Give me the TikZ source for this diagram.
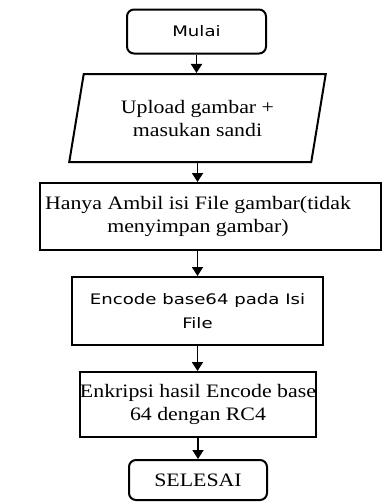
\documentclass[tikz,border=0pt]{standalone}
\usepackage{fontspec}
\setmainfont{Liberation Serif}[FakeStretch=1.15]
\newfontfamily\boxsans{DejaVu Sans}[FakeStretch=1.25]
\usepackage{tikz}
\usetikzlibrary{
  shapes.geometric, arrows.meta, positioning
}
\tikzstyle{startstop} = [rectangle, rounded corners=7pt, draw, line width=2pt, inner sep=0pt]
\tikzstyle{io} = [trapezium, trapezium left angle=75, trapezium right angle=105, trapezium stretches=true, draw, line width=2pt, inner sep=0pt, align=center]
\tikzstyle{process} = [rectangle, draw, line width=2pt, inner sep=0pt, align=center]
\tikzstyle{serif} = [font=\fontsize{19}{23}\selectfont]
\tikzstyle{sans} = [font=\boxsans\fontsize{14.5}{24}\selectfont]
\tikzstyle{arrow} = [-{Triangle[length=9pt, width=11pt]}, line width=1.8pt]

\begin{document}
\begin{tikzpicture}[x=1pt, y=-1pt]
  \useasboundingbox (0,0) rectangle (382,504);

  \node[startstop, sans, minimum width=139pt, minimum height=44pt] (mulai) at (196.5,31.5) {Mulai};
  \node[io, serif, minimum width=257pt, minimum height=88pt] (upload) at (197.5,118) {Upload gambar +\\masukan sandi};
  \node[process, minimum width=341pt, minimum height=67pt] (hanya) at (210.5,216.5) {};
  \node[serif, align=center, inner sep=0pt] (hanyatxt) at (198,216.5) {Hanya Ambil isi File gambar(tidak\\menyimpan gambar)};
  \node[process, sans, minimum width=251pt, minimum height=68pt] (encode) at (197.5,311) {Encode base64 pada Isi\\File};
  \node[process, serif, minimum width=236pt, minimum height=65pt] (enkripsi) at (198,404.5) {Enkripsi hasil Encode base\\64 dengan RC4};
  \node[startstop, serif, minimum width=138pt, minimum height=40pt] (selesai) at (198,480) {SELESAI};

  \draw[arrow] (mulai.south) -- (mulai.south |- upload.north);
  \draw[arrow] (upload.south) -- (upload.south |- hanya.north);
  \draw[arrow] (hanya.south -| encode.north) -- (encode.north);
  \draw[arrow] (encode.south) -- (encode.south |- enkripsi.north);
  \draw[arrow] (enkripsi.south) -- (enkripsi.south |- selesai.north);
\end{tikzpicture}
\end{document}
